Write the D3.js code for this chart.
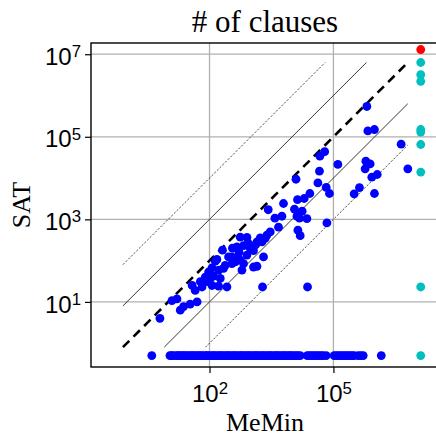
<!DOCTYPE html>
<html><head><meta charset="utf-8">
<script src="https://cdn.jsdelivr.net/npm/d3@7/dist/d3.min.js"></script>
<style>body{margin:0;background:#fff}</style>
</head><body><div id="chart"></div>
<script>
// Matched instances: [MeMin clauses, SAT clauses]
const pairsMeMin = [6.3,12.3,16.3,19.6,23.5,34,50,38,45,60,66,87,115,79,104,125,166,264,95,115,166,219,151,289,461,138,349,610,667,420,555,805,349,2030,1160,1410,461,667,968,1160,555,805,1410,1860,2230,1690,2450,2950,4680,13800,15700,1920,23600,2640,3830,5660,6180,11400,17500,13100,15100,22800,13500,19600,26900,42100,66800,80200,69500,12400,45900,128000,47000,61400,427000,318000,984000,851000,1150000,610000,775000,586000,682000,984000,645000,4.36e6,6.33e6,182,206,359,865,240,520,1300];
const pairsSAT   = [4.0,10.7,11.8,6.3,7.7,8.8,10,25,19,31,23,31,25,40,37,42,24,23,53,67,59,65,107,123,113,97,85,59,85,93,103,136,123,123,70,73,215,230,197,174,370,364,284,284,344,356,413,497,646,546,402,23,23,1710,1070,1190,2420,1760,1580,1190,1070,1040,2990,3200,4230,7620,5940,4230,818,9370,14700,21400,34000,43600,5870,4140,4230,10500,12200,25600,22000,16700,139000,150000,542000,66200,16700,37,179,200,264,77,160,240];
// SAT gave no clauses (plotted at 0.5)
const zeroSAT = 0.5;
const zeroSatMeMin = [4.0,11,12,13,15,17,18,20,22,24,26,29,32,36,39,43,48,53,58,63,70,79,86,93,104,116,127,138,155,172,188,203,228,254,277,300,337,375,410,444,500,555,605,655,735,818,890,968,1090,1210,1320,1430,1600,1790,1950,2110,2380,2640,2880,3120,3500,3900,4250,4610,5150,5750,6250,6800,7650,8500,9200,10000,11300,12600,14000,15700,23200,26000,29000,32500,36200,40500,45200,50500,56500,66800,104000,117000,131000,147000,163000,183000,204000,230000,255000,285000,318000,398000,460000,526000,1.44e6];
// MeMin timed out (plotted at 1.3e7)
const timeoutMeMin = 1.3e7;
const timeoutSAT = [6.3e6,3.2e6,2.2e6,1.5e5,1.3e5,6.5e4,1.4e4,23,0.5];
// both timed out
const bothTimeout = [[1.3e7, 1.3e7]];
const xTickValues = [1e2, 1e5];
const yTickValues = [1e1, 1e3, 1e5, 1e7];
const refFactors = [1, 10, 0.1, 100, 0.01];
const refRange = [0.8, 6.3e6];

const W = 436, H = 436;
const svg = d3.select("#chart").append("svg").attr("width", W).attr("height", H)
  .style("font-family", "'Liberation Sans', Arial, sans-serif");
const pL = 91, pR = 439, pT = 43, pB = 367;
const x = d3.scaleLog().domain([0.135, 3.6e7]).range([pL, pR]);
const y = d3.scaleLog().domain([0.265, 1.87e7]).range([pB, pT]);

// grid
const g = svg.append("g");
g.selectAll(".gx").data(xTickValues).join("line")
  .attr("x1", d => x(d)).attr("x2", d => x(d)).attr("y1", pT).attr("y2", pB)
  .attr("stroke", "#b0b0b0").attr("stroke-width", 1.3);
g.selectAll(".gy").data(yTickValues).join("line")
  .attr("y1", d => y(d)).attr("y2", d => y(d)).attr("x1", pL).attr("x2", pR)
  .attr("stroke", "#b0b0b0").attr("stroke-width", 1.3);

// reference lines
const styles = {1:{w:2.6,dash:"9,6"},10:{w:0.9,dash:null},0.1:{w:0.9,dash:null},100:{w:0.8,dash:"2.2,1.6"},0.01:{w:0.8,dash:"2.2,1.6"}};
refFactors.forEach(f => {
  const x0 = Math.max(refRange[0], refRange[0] / f), x1 = Math.min(refRange[1], refRange[1] / f);
  const l = g.append("line").attr("x1", x(x0)).attr("y1", y(x0 * f)).attr("x2", x(x1)).attr("y2", y(x1 * f))
    .attr("stroke", f === 1 ? "#000" : "#222").attr("stroke-width", styles[f].w);
  if (styles[f].dash) l.attr("stroke-dasharray", styles[f].dash);
});

// points
const r = 4.4;
const blue = "#0000ff", cyan = "#00bfbf", red = "#ff0000";
g.selectAll(".p").data(pairsMeMin.map((v, i) => [v, pairsSAT[i]])).join("circle")
  .attr("cx", d => x(d[0])).attr("cy", d => y(d[1])).attr("r", r).attr("fill", blue);
g.selectAll(".z").data(zeroSatMeMin).join("circle")
  .attr("cx", d => x(d)).attr("cy", y(zeroSAT)).attr("r", r).attr("fill", blue);
g.selectAll(".t").data(timeoutSAT).join("circle")
  .attr("cx", x(timeoutMeMin)).attr("cy", d => y(d)).attr("r", r).attr("fill", cyan);
g.selectAll(".b").data(bothTimeout).join("circle")
  .attr("cx", d => x(d[0])).attr("cy", d => y(d[1])).attr("r", r).attr("fill", red);

// frame
svg.append("rect").attr("x", pL).attr("y", pT).attr("width", pR - pL + 5).attr("height", pB - pT)
  .attr("fill", "none").attr("stroke", "#000").attr("stroke-width", 1.4);

function sup(sel) {
  sel.selectAll("text").each(function(d) {
    const t = d3.select(this); t.text(null);
    t.append("tspan").text("10");
    t.append("tspan").attr("dy", "-0.45em").attr("font-size", "0.7em").text(Math.round(Math.log10(d)));
  });
}
const ax = svg.append("g").attr("transform", `translate(0,${pB})`)
  .call(d3.axisBottom(x).tickValues(xTickValues).tickSize(6).tickPadding(6).tickFormat(d => d));
ax.select(".domain").remove();
ax.selectAll("text").attr("font-size", 24).attr("fill", "#000").attr("dy", "0.95em");
ax.selectAll("line").attr("stroke-width", 1.2);
ax.call(sup);
const ay = svg.append("g").attr("transform", `translate(${pL},0)`)
  .call(d3.axisLeft(y).tickValues(yTickValues).tickSize(6).tickPadding(4).tickFormat(d => d));
ay.select(".domain").remove();
ay.selectAll("text").attr("font-size", 24).attr("fill", "#000").attr("dy", "0.42em");
ay.selectAll("line").attr("stroke-width", 1.2);
ay.call(sup);

svg.append("text").attr("x", 265).attr("y", 32).attr("text-anchor", "middle")
  .attr("font-family", "'Liberation Serif', 'Times New Roman', serif").attr("font-size", 31).text("# of clauses");
svg.append("text").attr("x", 265).attr("y", 431).attr("text-anchor", "middle")
  .attr("font-family", "'Liberation Serif', 'Times New Roman', serif").attr("font-size", 26).text("MeMin");
svg.append("text").attr("transform", `translate(30,${(pT + pB) / 2}) rotate(-90)`).attr("text-anchor", "middle")
  .attr("font-family", "'Liberation Serif', 'Times New Roman', serif").attr("font-size", 26).text("SAT");
</script></body></html>
